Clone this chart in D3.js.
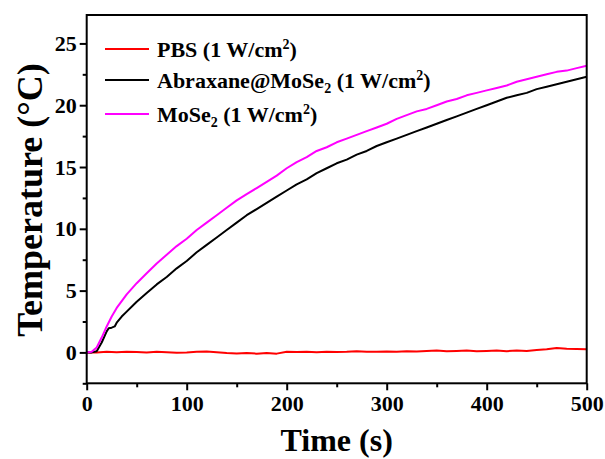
<!DOCTYPE html>
<html>
<head>
<meta charset="utf-8">
<script src="https://cdn.jsdelivr.net/npm/d3@7"></script>
<style>
  html, body { margin: 0; padding: 0; background: #fff; }
  svg { display: block; }
  text { font-family: "Liberation Serif", "Times New Roman", serif; font-weight: bold; fill: #000; }
</style>
</head>
<body>
<svg id="chart" width="605" height="459"></svg>
<script>
// ---- Data ----
const timesMoSe2 = [0,5,10,15,20,25,30,40,50,60,70,80,90,100,110,120,130,140,150,160,170,180,190,200,210,220,230,240,250,260,270,280,290,300,310,320,330,340,350,360,370,380,390,400,410,420,430,440,450,460,470,480,490,500];
const tempMoSe2  = [0,0.05,0.4,1.2,2.1,2.9,3.6,4.7,5.6,6.4,7.2,7.9,8.6,9.2,9.9,10.5,11.1,11.7,12.3,12.8,13.3,13.8,14.3,14.9,15.4,15.8,16.3,16.6,17.0,17.3,17.6,17.9,18.2,18.5,18.9,19.2,19.5,19.7,20.0,20.3,20.5,20.8,21.0,21.2,21.4,21.6,21.9,22.1,22.3,22.5,22.7,22.8,23.0,23.2];

const timesAbraxane = [0,5,10,15,20,22,25,28,30,35,40,50,60,70,80,90,100,110,120,130,140,150,160,170,180,190,200,210,220,230,240,250,260,270,280,290,300,310,320,330,340,350,360,370,380,390,400,410,420,430,440,450,460,470,480,490,500];
const tempAbraxane  = [0,0,0.1,0.8,1.7,1.95,2.0,2.1,2.4,2.9,3.3,4.1,4.8,5.5,6.1,6.8,7.4,8.1,8.7,9.3,9.9,10.5,11.1,11.6,12.1,12.6,13.1,13.6,14.0,14.5,14.9,15.3,15.6,16.0,16.3,16.7,17.0,17.3,17.6,17.9,18.2,18.5,18.8,19.1,19.4,19.7,20.0,20.3,20.6,20.8,21.0,21.3,21.5,21.7,21.9,22.1,22.3];

const timesPBS = [0,10,20,30,40,50,60,70,80,90,100,110,120,130,140,150,160,170,180,190,200,210,220,230,240,250,260,270,280,290,300,310,320,330,340,350,360,370,380,390,400,410,420,430,440,450,460,470,480,490,500];
const tempPBS  = [0,0,0.05,0.02,0.05,0.03,0,0.05,0.02,-0.02,0,0.05,0.08,0.02,-0.05,-0.08,-0.05,-0.1,-0.05,-0.1,0.05,0.03,0.06,0.02,0.05,0.04,0.06,0.1,0.05,0.06,0.08,0.05,0.1,0.08,0.12,0.15,0.1,0.12,0.15,0.1,0.12,0.15,0.1,0.15,0.12,0.2,0.25,0.35,0.3,0.28,0.25];

const xTicks = [0,100,200,300,400,500];
const xMinorTicks = [50,150,250,350,450];
const yTicks = [0,5,10,15,20,25];
const yMinorTicks = [-2.5,2.5,7.5,12.5,17.5,22.5];

const seriesNames = ["PBS", "Abraxane@MoSe", "MoSe"];
const seriesColors = ["#ff0000", "#000000", "#ff00ff"];

// ---- Layout ----
const svg = d3.select("#chart");
const pLeft = 86.7, pRight = 586.7, pTop = 15, pBottom = 383.3;

const x = d3.scaleLinear().domain([0, 500]).range([pLeft, pRight]);
const y = d3.scaleLinear().domain([-2.5, 27.3]).range([pBottom, pTop]);

svg.append("clipPath").attr("id", "clip")
  .append("rect").attr("x", pLeft).attr("y", pTop).attr("width", pRight - pLeft).attr("height", pBottom - pTop);

// ---- Data lines ----
const line = d3.line().x(d => x(d[0])).y(d => y(d[1]));
const series = [
  { t: timesPBS, v: tempPBS, c: seriesColors[0] },
  { t: timesAbraxane, v: tempAbraxane, c: seriesColors[1] },
  { t: timesMoSe2, v: tempMoSe2, c: seriesColors[2] }
];
const g = svg.append("g").attr("clip-path", "url(#clip)");
series.forEach(s => {
  g.append("path")
    .datum(s.t.map((t, i) => [t, s.v[i]]))
    .attr("d", line)
    .attr("fill", "none")
    .attr("stroke", s.c)
    .attr("stroke-width", 2)
    .attr("stroke-linejoin", "round");
});

// ---- Axes ----
const xAxis = svg.append("g").attr("transform", `translate(0,${pBottom})`)
  .call(d3.axisBottom(x).tickValues(xTicks).tickSize(7).tickPadding(5).tickFormat(d3.format("d")));
const xMinor = svg.append("g").attr("transform", `translate(0,${pBottom})`)
  .call(d3.axisBottom(x).tickValues(xMinorTicks).tickSize(4).tickFormat(""));
const yAxis = svg.append("g").attr("transform", `translate(${pLeft},0)`)
  .call(d3.axisLeft(y).tickValues(yTicks).tickSize(7).tickPadding(3).tickFormat(d3.format("d")));
const yMinor = svg.append("g").attr("transform", `translate(${pLeft},0)`)
  .call(d3.axisLeft(y).tickValues(yMinorTicks).tickSize(4).tickFormat(""));

[xAxis, xMinor, yAxis, yMinor].forEach(a => {
  a.select(".domain").remove();
  a.selectAll(".tick line").attr("stroke", "#000").attr("stroke-width", 2);
  a.selectAll(".tick text")
    .style("font-family", '"Liberation Serif", "Times New Roman", serif')
    .style("font-weight", "bold")
    .style("font-size", "22px")
    .attr("fill", "#000");
});

// frame
svg.append("rect")
  .attr("x", pLeft).attr("y", pTop)
  .attr("width", pRight - pLeft).attr("height", pBottom - pTop)
  .attr("fill", "none").attr("stroke", "#000").attr("stroke-width", 2);

// ---- Axis titles ----
svg.append("text")
  .attr("x", (pLeft + pRight) / 2).attr("y", 451)
  .attr("text-anchor", "middle")
  .style("font-size", "32px")
  .text("Time (s)");

svg.append("text")
  .attr("transform", `translate(42,200) rotate(-90)`)
  .attr("text-anchor", "middle")
  .style("font-size", "36px")
  .text("Temperature (°C)");

// ---- Legend ----
const legendRows = [49, 80, 114];
seriesNames.forEach((name, i) => {
  const cy = legendRows[i];
  svg.append("line")
    .attr("x1", 105).attr("x2", 149)
    .attr("y1", cy).attr("y2", cy)
    .attr("stroke", seriesColors[i]).attr("stroke-width", 2);
  const t = svg.append("text").attr("x", 157).attr("y", cy + 7.5).style("font-size", "22px");
  t.append("tspan").text(name);
  if (i > 0) {
    t.append("tspan").attr("dy", 5).style("font-size", "14px").text("2");
    t.append("tspan").attr("dy", -5).text(" (1 W/cm");
  } else {
    t.append("tspan").text(" (1 W/cm");
  }
  t.append("tspan").attr("dy", -8).style("font-size", "14px").text("2");
  t.append("tspan").attr("dy", 8).text(")");
});
</script>
</body>
</html>
